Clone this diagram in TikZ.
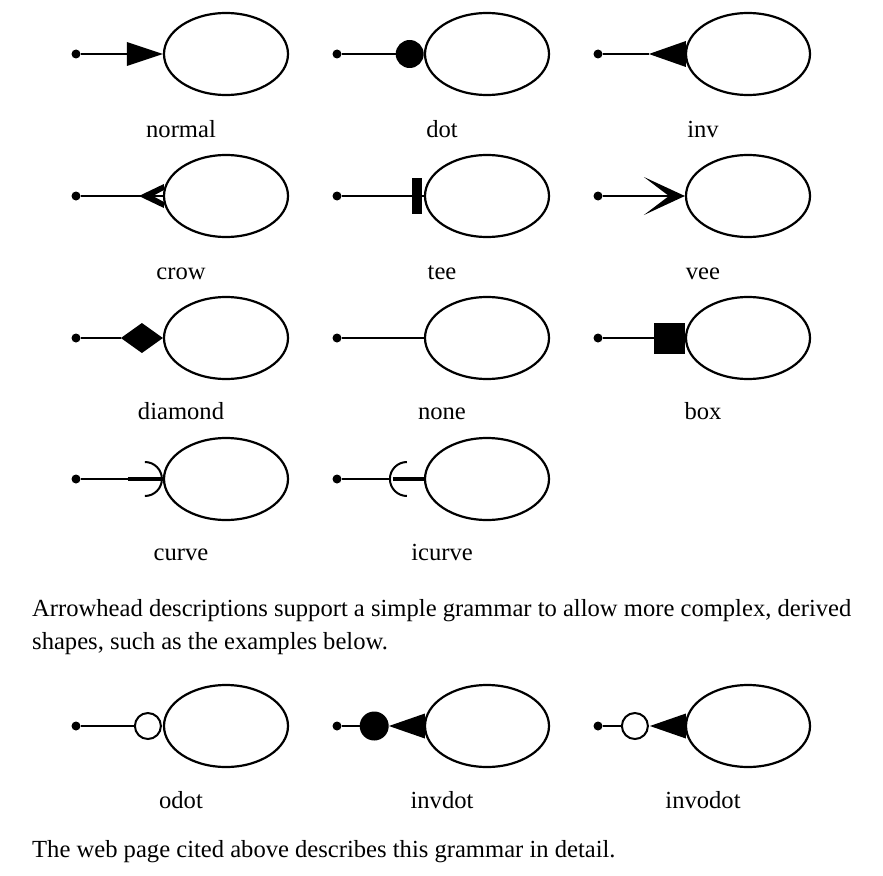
\documentclass[tikz,border=0pt]{standalone}
\usepackage{fontspec}
\setmainfont{Liberation Serif}
\usetikzlibrary{shapes.geometric}
\begin{document}
\begin{tikzpicture}[x=1pt,y=-1pt,
  oval/.style={ellipse,draw,line width=2.2pt,minimum width=124pt,minimum height=82pt,inner sep=0pt,fill=white},
  edge/.style={line width=2pt},
  thick edge/.style={line width=4.5pt},
  tailpt/.style={circle,fill,inner sep=0pt,minimum size=9pt},
  lbl/.style={anchor=base,font=\fontsize{24.6}{33}\selectfont},
  txt/.style={anchor=base west,inner sep=0pt,font=\fontsize{24.6}{33}\selectfont}]
\useasboundingbox (0,0) rectangle (883,875);
% ---------- row 1
\node[tailpt] (t11) at (76,54) {};
\node[oval] (n11) at (226,54) {};
\node[lbl] (l11) at (181,137) {normal};
\coordinate (a11) at ([xshift=-36pt]n11.west);
\draw[edge] (t11) -- (a11);
\fill (n11.west) -- ++(-36,-12) -- ++(0,24) -- cycle;

\node[tailpt] (t12) at (337,54) {};
\node[oval] (n12) at (487,54) {};
\node[lbl] (l12) at (442,137) {dot};
\node[circle,fill,inner sep=0pt,minimum size=28pt,anchor=east] (d12) at (n12.west) {};
\draw[edge] (t12) -- (d12);

\node[tailpt] (t13) at (598,54) {};
\node[oval] (n13) at (748,54) {};
\node[lbl] (l13) at (703,137) {inv};
\coordinate (a13) at ([xshift=-36pt]n13.west);
\draw[edge] (t13) -- (a13);
\fill (a13) -- ([xshift=1pt,yshift=13pt]n13.west) -- ([xshift=1pt,yshift=-13pt]n13.west) -- cycle;

% ---------- row 2
\node[tailpt] (t21) at (76,196) {};
\node[oval] (n21) at (226,196) {};
\node[lbl] (l21) at (181,279) {crow};
\draw[edge] (t21) -- (n21.west);
\fill[shift={(n21.west)}] (-24,0) -- (1,-12) -- (1,-6) -- (-10,0) -- (1,6) -- (1,12) -- cycle;

\node[tailpt] (t22) at (337,196) {};
\node[oval] (n22) at (487,196) {};
\node[lbl] (l22) at (442,279) {tee};
\draw[edge] (t22) -- (n22.west);
\fill[shift={(n22.west)}] (-12,-18) rectangle (-2,18);

\node[tailpt] (t23) at (598,196) {};
\node[oval] (n23) at (748,196) {};
\node[lbl] (l23) at (703,279) {vee};
\coordinate (a23) at ([xshift=-16pt]n23.west);
\draw[edge] (t23) -- (a23);
\fill[shift={(n23.west)}] (0,0) -- (-41,-19) -- (-16,0) -- (-41,19) -- cycle;

% ---------- row 3
\node[tailpt] (t31) at (76,338) {};
\node[oval] (n31) at (226,338) {};
\node[lbl] (l31) at (181,419) {diamond};
\coordinate (a31) at ([xshift=-42pt]n31.west);
\draw[edge] (t31) -- (a31);
\fill[shift={(n31.west)}] (0,0) -- (-21,-15) -- (-42,0) -- (-21,15) -- cycle;

\node[tailpt] (t32) at (337,338) {};
\node[oval] (n32) at (487,338) {};
\node[lbl] (l32) at (442,419) {none};
\draw[edge] (t32) -- (n32.west);

\node[tailpt] (t33) at (598,338) {};
\node[oval] (n33) at (748,338) {};
\node[lbl] (l33) at (703,419) {box};
\coordinate (a33) at ([xshift=-31pt]n33.west);
\draw[edge] (t33) -- (a33);
\fill[shift={(n33.west)}] (-31,-15.5) rectangle (0.5,15.5);

% ---------- row 4
\node[tailpt] (t41) at (76,479) {};
\node[oval] (n41) at (226,479) {};
\node[lbl] (l41) at (181,560) {curve};
\coordinate (a41) at ([xshift=-35pt]n41.west);
\draw[edge] (t41) -- (a41);
\draw[thick edge] (a41) -- (n41.west);
\draw[edge,shift={(n41.west)}] (-18,-17) arc[start angle=-90,end angle=90,radius=17];

\node[tailpt] (t42) at (337,479) {};
\node[oval] (n42) at (487,479) {};
\node[lbl] (l42) at (442,560) {icurve};
\coordinate (a42) at ([xshift=-34pt]n42.west);
\draw[edge] (t42) -- (a42);
\draw[thick edge] ([xshift=-31pt]n42.west) -- (n42.west);
\draw[edge,shift={(n42.west)}] (-17,-17) arc[start angle=270,end angle=90,radius=17];

% ---------- text
\node[txt] (p1) at (32,616) {Arrowhead descriptions support a simple grammar to allow more complex, derived};
\node[txt] (p2) at (32,649) {shapes, such as the examples below.};

% ---------- row 5
\node[tailpt] (t51) at (76,726) {};
\node[oval] (n51) at (226,726) {};
\node[lbl] (l51) at (181,808) {odot};
\node[circle,draw,fill=white,line width=2pt,inner sep=0pt,minimum size=26pt,anchor=east] (d51) at ([xshift=-1pt]n51.west) {};
\draw[edge] (t51) -- (d51);

\node[tailpt] (t52) at (337,726) {};
\node[oval] (n52) at (487,726) {};
\node[lbl] (l52) at (442,808) {invdot};
\coordinate (a52) at ([xshift=-35pt]n52.west);
\fill (a52) -- ([xshift=1pt,yshift=12.5pt]n52.west) -- ([xshift=1pt,yshift=-12.5pt]n52.west) -- cycle;
\node[circle,fill,inner sep=0pt,minimum size=29pt,anchor=east] (d52) at (a52) {};
\draw[edge] (t52) -- (d52);

\node[tailpt] (t53) at (598,726) {};
\node[oval] (n53) at (748,726) {};
\node[lbl] (l53) at (703,808) {invodot};
\coordinate (a53) at ([xshift=-35pt]n53.west);
\fill (a53) -- ([xshift=1pt,yshift=12.5pt]n53.west) -- ([xshift=1pt,yshift=-12.5pt]n53.west) -- cycle;
\node[circle,draw,fill=white,line width=2pt,inner sep=0pt,minimum size=26pt,anchor=east] (d53) at ([xshift=-1pt]a53) {};
\draw[edge] (t53) -- (d53);

\node[txt] (p3) at (32,857) {The web page cited above describes this grammar in detail.};
\end{tikzpicture}
\end{document}
